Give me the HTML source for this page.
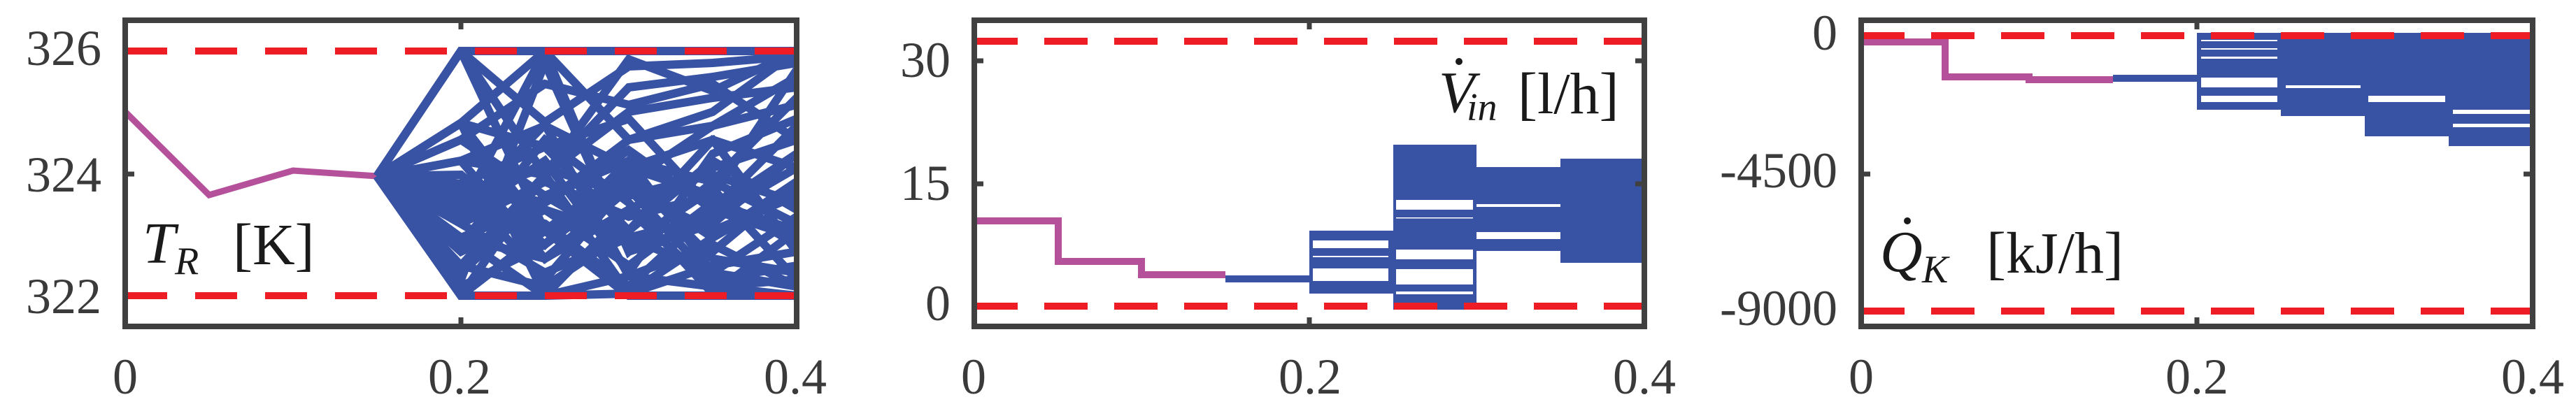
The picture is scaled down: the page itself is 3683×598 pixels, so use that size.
<!DOCTYPE html>
<html><head><meta charset="utf-8"><style>
html,body{margin:0;padding:0;background:#fff;}
svg{display:block;}
text{font-family:"Liberation Serif",serif;fill:#3a3a3a;}
.m{fill:#1a1a1a;}
</style></head><body>
<svg width="3683" height="598" viewBox="0 0 3683 598" xmlns="http://www.w3.org/2000/svg">
<defs>
<clipPath id="c1"><rect x="179" y="67" width="960" height="362"/></clipPath>
</defs>
<!-- ===== Panel 1 ===== -->
<polyline points="179,160 299,279 419,244 539,252" fill="none" stroke="#b5519b" stroke-width="9"/>
<g clip-path="url(#c1)" fill="none" stroke-linejoin="miter" stroke-miterlimit="3">
<g stroke="#3953a4" stroke-width="12">
<polyline points="539,252 659,73 779,73 899,73 1019,73 1139,73"/>
<polyline points="539,252 659,73 779,175 899,95 1019,90 1139,80"/>
<polyline points="539,252 659,73 779,250 899,160 1019,140 1139,125"/>
<polyline points="539,252 659,176 779,73 899,200 1019,180 1139,150"/>
<polyline points="539,252 659,176 779,423 899,300 1019,240 1139,200"/>
<polyline points="539,252 659,230 779,180 899,240 1019,280 1139,100"/>
<polyline points="539,252 659,263 779,210 899,330 1019,200 1139,240"/>
<polyline points="539,252 659,263 779,290 899,215 1019,300 1139,180"/>
<polyline points="539,252 659,300 779,330 899,270 1019,330 1139,280"/>
<polyline points="539,252 659,300 779,73 899,360 1019,260 1139,320"/>
<polyline points="539,252 659,340 779,370 899,300 1019,360 1139,260"/>
<polyline points="539,252 659,380 779,250 899,420 1019,380 1139,360"/>
<polyline points="539,252 659,423 779,423 899,395 1019,410 1139,400"/>
<polyline points="539,252 659,423 779,330 899,423 1019,423 1139,423"/>
<polyline points="539,252 659,340 779,290 899,200 1019,160 1139,73"/>
<polyline points="539,252 659,230 779,250 899,125 1019,110 1139,90"/>
<polyline points="539,252 659,176 779,210 899,170 1019,300 1139,340"/>
<polyline points="539,252 659,380 779,410 899,330 1019,230 1139,300"/>
<polyline points="539,252 659,263 779,370 899,270 1019,400 1139,380"/>
<polyline points="539,252 659,300 779,178 899,395 1019,350 1139,410"/>
<polyline points="539,252 659,400 779,90 899,360 1019,320 1139,220"/>
<polyline points="539,252 659,73 779,330 899,240 1019,200 1139,360"/>
<polyline points="539,252 659,423 779,250 899,85 1019,130 1139,73"/>
<polyline points="539,252 659,340 779,423 899,420 1019,340 1139,260"/>
<polyline points="539,252 659,230 779,370 899,300 1019,410 1139,423"/>
<polyline points="539,252 659,263 779,300 899,380 1019,290 1139,330"/>
<polyline points="539,252 659,176 779,330 899,250 1019,370 1139,390"/>
<polyline points="539,252 659,280 779,240 899,280 1019,250 1139,290"/>
<polyline points="539,252 659,320 779,260 899,310 1019,280 1139,350"/>
<polyline points="539,252 659,360 779,300 899,340 1019,310 1139,240"/>
<polyline points="539,252 659,250 779,350 899,230 1019,390 1139,310"/>
<polyline points="539,252 659,200 779,280 899,350 1019,270 1139,400"/>
<polyline points="539,252 659,310 779,230 899,390 1019,220 1139,170"/>
<polyline points="539,252 659,270 779,400 899,260 1019,340 1139,270"/>
<polyline points="539,252 659,350 779,200 899,290 1019,420 1139,330"/>
<polyline points="539,252 659,290 779,320 899,410 1019,300 1139,220"/>
<polyline points="539,252 659,390 779,280 899,230 1019,260 1139,140"/>
<polyline points="539,252 659,410 779,350 899,260 1019,180 1139,110"/>
<polyline points="539,252 659,200 779,120 899,150 1019,120 1139,200"/>
<polyline points="539,252 659,320 779,390 899,340 1019,390 1139,410"/>
</g>
</g>
<g stroke="#ee1c25" stroke-width="10" stroke-dasharray="60 40">
<line x1="179" y1="73" x2="1139" y2="73"/>
<line x1="179" y1="423" x2="1139" y2="423"/>
</g>
<rect x="179" y="29" width="960" height="438" fill="none" stroke="#404040" stroke-width="8"/>
<g stroke="#404040" stroke-width="7">
<line x1="659" y1="29" x2="659" y2="42"/><line x1="659" y1="467" x2="659" y2="454"/>
<line x1="179" y1="249" x2="192" y2="249"/>
</g>
<g font-size="72" text-anchor="end">
<text x="145" y="93">326</text>
<text x="145" y="274">324</text>
<text x="145" y="448">322</text>
</g>
<g font-size="72" text-anchor="middle">
<text x="179" y="563">0</text><text x="657" y="563">0.2</text><text x="1137" y="563">0.4</text>
</g>
<text x="204" y="376" font-size="84" font-style="italic" class="m">T</text>
<text x="250" y="392" font-size="56" font-style="italic" class="m">R</text>
<text x="333" y="378" font-size="84" class="m">[K]</text>

<!-- ===== Panel 2 ===== -->
<g fill="none">
<polyline points="1393,316 1513,316 1513,374 1632,374 1632,393 1752,393" stroke="#b5519b" stroke-width="10"/>
<line x1="1752" y1="399" x2="1872" y2="399" stroke="#3953a4" stroke-width="10"/>
</g>
<g fill="#3953a4">
<rect x="1872" y="330" width="120" height="90"/>
<rect x="1992" y="207" width="119" height="236"/>
<rect x="2111" y="239" width="120" height="120"/>
<rect x="2231" y="227" width="120" height="149"/>
</g>
<g fill="#fff">
<rect x="1877" y="344" width="108" height="11"/>
<rect x="1877" y="366" width="108" height="2"/>
<rect x="1877" y="384" width="108" height="18"/>
<rect x="1996" y="286" width="110" height="14"/>
<rect x="1996" y="311" width="110" height="1.5"/>
<rect x="1996" y="357" width="110" height="14"/>
<rect x="1996" y="385" width="110" height="22"/>
<rect x="1996" y="417" width="110" height="4"/>
<rect x="2111" y="292" width="120" height="4"/>
<rect x="2111" y="332" width="120" height="10"/>
</g>
<g stroke="#ee1c25" stroke-width="10" stroke-dasharray="62 38">
<line x1="1393" y1="59" x2="2351" y2="59"/>
<line x1="1393" y1="438" x2="2351" y2="438"/>
</g>
<rect x="1393" y="29" width="958" height="438" fill="none" stroke="#404040" stroke-width="8"/>
<g stroke="#404040" stroke-width="7">
<line x1="1872" y1="29" x2="1872" y2="42"/><line x1="1872" y1="467" x2="1872" y2="454"/>
<line x1="1393" y1="87" x2="1406" y2="87"/><line x1="2351" y1="87" x2="2338" y2="87"/>
<line x1="1393" y1="263" x2="1406" y2="263"/><line x1="2351" y1="263" x2="2338" y2="263"/>
</g>
<g font-size="72" text-anchor="end">
<text x="1359" y="110">30</text>
<text x="1359" y="286">15</text>
<text x="1359" y="458">0</text>
</g>
<g font-size="72" text-anchor="middle">
<text x="1392" y="563">0</text><text x="1873" y="563">0.2</text><text x="2351" y="563">0.4</text>
</g>
<text x="2057" y="160" font-size="84" font-style="italic" class="m">V</text>
<circle cx="2086" cy="88" r="5" fill="#1a1a1a"/>
<text x="2097" y="172" font-size="56" font-style="italic" class="m">in</text>
<text x="2170" y="162" font-size="84" class="m">[l/h]</text>

<!-- ===== Panel 3 ===== -->
<g fill="none">
<polyline points="2661,60 2781,60 2781,110 2901,110 2901,114 3021,114" stroke="#b5519b" stroke-width="10"/>
<line x1="3021" y1="112" x2="3141" y2="112" stroke="#3953a4" stroke-width="10"/>
</g>
<g fill="#3953a4">
<rect x="3141" y="47" width="120" height="110"/>
<rect x="3261" y="47" width="120" height="119"/>
<rect x="3381" y="47" width="120" height="148"/>
<rect x="3501" y="47" width="120" height="162"/>
</g>
<g fill="#fff">
<rect x="3147" y="57" width="109" height="2"/>
<rect x="3147" y="69" width="109" height="2"/>
<rect x="3147" y="81" width="109" height="3"/>
<rect x="3147" y="111" width="109" height="14"/>
<rect x="3147" y="137" width="109" height="9"/>
<rect x="3268" y="122" width="107" height="4"/>
<rect x="3386" y="137" width="110" height="9"/>
<rect x="3507" y="157" width="114" height="6"/>
<rect x="3507" y="177" width="114" height="5"/>
</g>
<g stroke="#ee1c25" stroke-width="10" stroke-dasharray="62 38">
<line x1="2661" y1="51" x2="3621" y2="51"/>
<line x1="2661" y1="445" x2="3621" y2="445"/>
</g>
<rect x="2661" y="29" width="960" height="438" fill="none" stroke="#404040" stroke-width="8"/>
<g stroke="#404040" stroke-width="7">
<line x1="3141" y1="29" x2="3141" y2="42"/><line x1="3141" y1="467" x2="3141" y2="454"/>
<line x1="2661" y1="249" x2="2674" y2="249"/><line x1="3621" y1="249" x2="3608" y2="249"/>
</g>
<g font-size="72" text-anchor="end">
<text x="2627" y="71">0</text>
<text x="2627" y="268">-4500</text>
<text x="2627" y="465">-9000</text>
</g>
<g font-size="72" text-anchor="middle">
<text x="2661" y="563">0</text><text x="3141" y="563">0.2</text><text x="3621" y="563">0.4</text>
</g>
<text x="2688" y="388" font-size="84" font-style="italic" class="m">Q</text>
<circle cx="2727" cy="316" r="5" fill="#1a1a1a"/>
<text x="2748" y="404" font-size="56" font-style="italic" class="m">K</text>
<text x="2840" y="390" font-size="84" class="m">[kJ/h]</text>
</svg>
</body></html>
